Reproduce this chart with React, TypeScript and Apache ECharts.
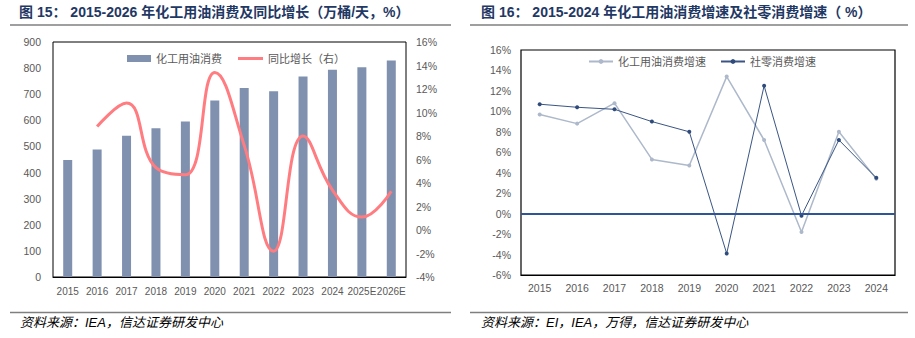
import React, { useEffect, useRef } from 'react';
import * as echarts from 'echarts';

const yearsLeft = ['2015', '2016', '2017', '2018', '2019', '2020', '2021', '2022', '2023', '2024', '2025E', '2026E'];
const consumption = [448, 488, 541, 570, 596, 676, 724, 711, 768, 794, 803, 829];
const growthLeft = [null, 8.8, 10.8, 5.3, 4.7, 13.4, 7.2, -1.8, 8.0, 3.4, 1.1, 3.3];
const leftAxisTicks = { min: 0, max: 900, interval: 100 };
const rightAxisTicks = { min: -4, max: 16, interval: 2 };

const yearsRight = ['2015', '2016', '2017', '2018', '2019', '2020', '2021', '2022', '2023', '2024'];
const chemGrowth = [9.7, 8.8, 10.8, 5.3, 4.7, 13.4, 7.2, -1.8, 8.0, 3.4];
const retailGrowth = [10.7, 10.4, 10.2, 9.0, 8.0, -3.9, 12.5, -0.2, 7.2, 3.5];
const right2Ticks = { min: -6, max: 16, interval: 2 };

const titleLeft = '图 15： 2015-2026 年化工用油消费及同比增长（万桶/天，%）';
const titleRight = '图 16： 2015-2024 年化工用油消费增速及社零消费增速（ %）';
const sourceLeft = '资料来源：IEA，信达证券研发中心';
const sourceRight = '资料来源：EI，IEA，万得，信达证券研发中心';

const FONT = '"Liberation Sans", "Noto Sans CJK SC", sans-serif';
const LABEL = '#595959';

export default function App() {
  const ref = useRef<HTMLDivElement>(null);
  useEffect(() => {
    if (!ref.current) return;
    const chart = echarts.init(ref.current, null, { renderer: 'svg' });
    const axisLabel = { color: LABEL, fontSize: 10.5, fontFamily: FONT };
    const legendText = { color: LABEL, fontSize: 11, fontFamily: FONT };
    chart.setOption({
      animation: false,
      backgroundColor: '#fff',
      textStyle: { fontFamily: FONT },
      grid: [
        { left: 53, top: 42, width: 353, height: 235, show: true, borderColor: '#000', borderWidth: 1, backgroundColor: 'transparent' },
        { left: 521, top: 50, width: 374, height: 225, show: true, borderColor: '#000', borderWidth: 1.2, backgroundColor: 'transparent' },
      ],
      legend: [
        {
          left: 122, top: 48, itemWidth: 24, itemHeight: 7,
          textStyle: legendText,
          data: [{ name: '化工用油消费', icon: 'rect' }],
        },
        {
          left: 233, top: 48, itemWidth: 25, itemHeight: 3,
          textStyle: legendText,
          data: [{ name: '同比增长（右）', icon: 'rect' }],
        },
        {
          left: 583, top: 51, itemGap: 14, itemWidth: 24, itemHeight: 6,
          textStyle: legendText,
          data: ['化工用油消费增速', '社零消费增速'],
        },
      ],
      xAxis: [
        {
          type: 'category', gridIndex: 0, data: yearsLeft,
          axisLine: { show: true, lineStyle: { color: '#000' } }, axisTick: { show: false },
          axisLabel: { ...axisLabel, fontSize: 10, interval: 0, margin: 9 },
        },
        {
          type: 'category', gridIndex: 1, data: yearsRight,
          axisLine: { show: true, onZero: false, lineStyle: { color: '#000' } }, axisTick: { show: false },
          axisLabel: { ...axisLabel, interval: 0, margin: 8 },
        },
      ],
      yAxis: [
        {
          type: 'value', gridIndex: 0, ...leftAxisTicks,
          splitLine: { show: false }, axisLine: { show: false }, axisTick: { show: false },
          axisLabel: { ...axisLabel, margin: 12 },
        },
        {
          type: 'value', gridIndex: 0, position: 'right', ...rightAxisTicks,
          splitLine: { show: false }, axisLine: { show: false }, axisTick: { show: false },
          axisLabel: { ...axisLabel, margin: 10, formatter: '{value}%' },
        },
        {
          type: 'value', gridIndex: 1, ...right2Ticks,
          splitLine: { show: false }, axisLine: { show: false }, axisTick: { show: false },
          axisLabel: { ...axisLabel, margin: 10, formatter: '{value}%' },
        },
      ],
      series: [
        {
          name: '化工用油消费', type: 'bar', xAxisIndex: 0, yAxisIndex: 0, data: consumption,
          barWidth: 9, itemStyle: { color: '#8091B0' },
        },
        {
          name: '同比增长（右）', type: 'line', xAxisIndex: 0, yAxisIndex: 1, data: growthLeft,
          smooth: 0.45, symbol: 'none', lineStyle: { color: '#FF7C80', width: 3 }, itemStyle: { color: '#FF7C80' },
        },
        {
          name: '化工用油消费增速', type: 'line', xAxisIndex: 1, yAxisIndex: 2, data: chemGrowth,
          symbol: 'circle', symbolSize: 4, lineStyle: { color: '#ADB9CA', width: 1.5 }, itemStyle: { color: '#ADB9CA' },
          markLine: {
            silent: true, symbol: 'none', label: { show: false },
            lineStyle: { color: '#2F5597', width: 1.8, type: 'solid' },
            data: [{ yAxis: 0 }],
          },
        },
        {
          name: '社零消费增速', type: 'line', xAxisIndex: 1, yAxisIndex: 2, data: retailGrowth,
          symbol: 'circle', symbolSize: 4, lineStyle: { color: '#3A5584', width: 1 }, itemStyle: { color: '#2F4B7C' },
        },
      ],
      graphic: [
        { type: 'text', left: 19, top: 5, style: { text: titleLeft, fontSize: 14, fontWeight: 'bold', fill: '#1F3864', fontFamily: FONT } },
        { type: 'text', left: 481, top: 5, style: { text: titleRight, fontSize: 14, fontWeight: 'bold', fill: '#1F3864', fontFamily: FONT } },
        { type: 'line', shape: { x1: 10, y1: 25, x2: 451, y2: 25 }, style: { stroke: '#7F7F7F', lineWidth: 1.5 } },
        { type: 'line', shape: { x1: 470, y1: 25, x2: 908, y2: 25 }, style: { stroke: '#7F7F7F', lineWidth: 1.5 } },
        { type: 'line', shape: { x1: 10, y1: 312.5, x2: 451, y2: 312.5 }, style: { stroke: '#7F7F7F', lineWidth: 1.5 } },
        { type: 'line', shape: { x1: 470, y1: 312.5, x2: 908, y2: 312.5 }, style: { stroke: '#7F7F7F', lineWidth: 1.5 } },
        { type: 'text', left: 20, top: 316, style: { text: sourceLeft, fontSize: 13, fontStyle: 'italic', fill: '#000', fontFamily: FONT } },
        { type: 'text', left: 481, top: 316, style: { text: sourceRight, fontSize: 13, fontStyle: 'italic', fill: '#000', fontFamily: FONT } },
      ],
    });
    return () => chart.dispose();
  }, []);
  return <div ref={ref} style={{ position: 'absolute', left: 0, top: 0, width: 915, height: 338, background: '#fff' }} />;
}
